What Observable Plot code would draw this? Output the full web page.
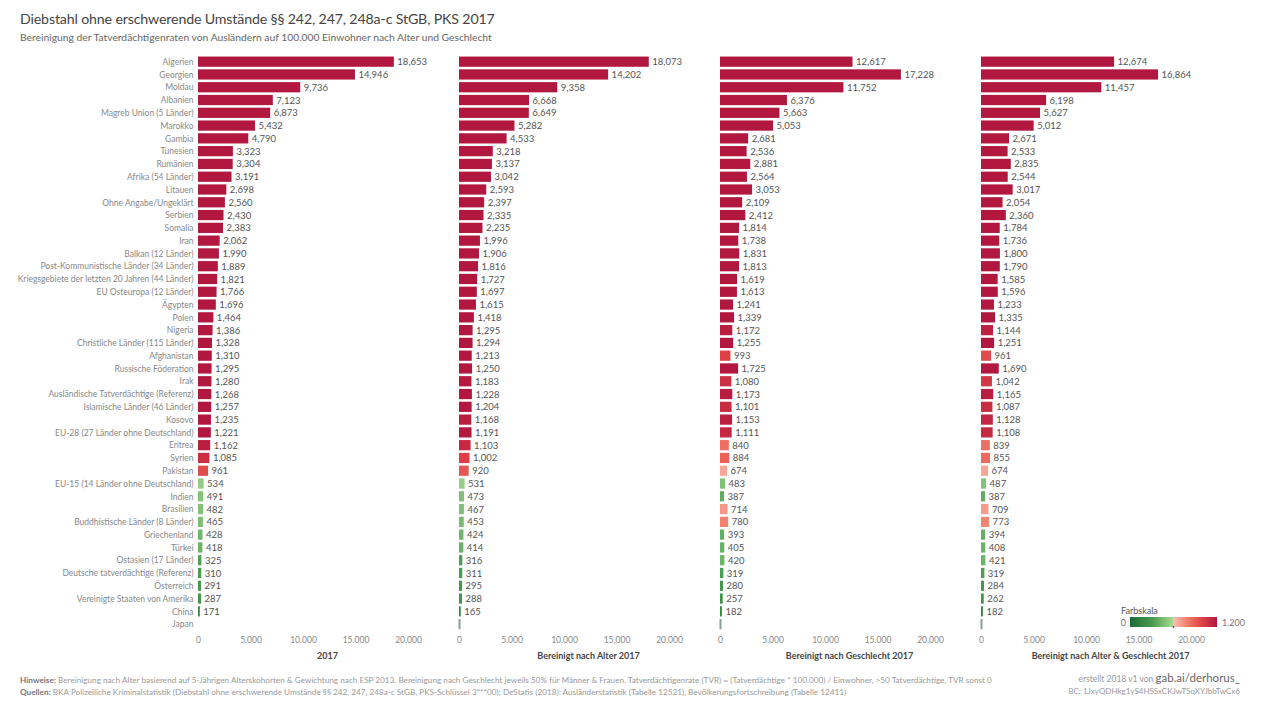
<!DOCTYPE html>
<html><head><meta charset="utf-8">
<script src="https://cdn.jsdelivr.net/npm/d3@7"></script>
<script src="https://cdn.jsdelivr.net/npm/@observablehq/plot@0.6"></script>
<style>
body{margin:0;background:#fff;font-family:Lato,"Open Sans",sans-serif;}
#wrap{position:relative;width:1280px;height:720px;overflow:hidden;}
.abs{position:absolute;white-space:nowrap;}
</style></head>
<body><div id="wrap">
<div class="abs" style="left:20px;top:10px;font-size:14.2px;letter-spacing:-0.15px;color:#444;">Diebstahl ohne erschwerende Umstände §§ 242, 247, 248a-c StGB, PKS 2017</div>
<div class="abs" style="left:20px;top:31px;font-size:10.3px;color:#666;">Bereinigung der Tatverdächtigenraten von Ausländern auf 100.000 Einwohner nach Alter und Geschlecht</div>
<div id="chart" class="abs" style="left:0;top:48px;"></div>
<div id="legend" class="abs" style="left:1118px;top:604px;"></div>
<div class="abs" style="left:20px;top:675px;font-size:8.2px;color:#999;"><span style="color:#777;font-weight:bold">Hinweise:</span> Bereinigung nach Alter basierend auf 5-Jährigen Alterskohorten &amp; Gewichtung nach ESP 2013. Bereinigung nach Geschlecht jeweils 50% für Männer &amp; Frauen. Tatverdächtigenrate (TVR) = (Tatverdächtige * 100.000) / Einwohner, &gt;50 Tatverdächtige, TVR sonst 0</div>
<div class="abs" style="left:20px;top:687px;font-size:8.2px;color:#999;"><span style="color:#777;font-weight:bold">Quellen:</span> BKA Polizeiliche Kriminalstatistik (Diebstahl ohne erschwerende Umstände §§ 242, 247, 248a-c StGB, PKS-Schlüssel 3***00); DeStatis (2018): Ausländerstatistik (Tabelle 12521), Bevölkerungsfortschreibung (Tabelle 12411)</div>
<div class="abs" style="right:40px;top:671px;font-size:8.5px;color:#999;text-align:right;">erstellt 2018 v1 von <span style="font-size:11.5px;color:#666;">gab.ai/derhorus_</span></div>
<div class="abs" style="right:40px;top:686px;font-size:8px;color:#999;text-align:right;">BC: 1JxyQDHkg1yS4HSSxCKJwTSqXYJbbTwCx6</div>
</div>
<script>
const categories = ["Algerien","Georgien","Moldau","Albanien","Magreb Union (5 Länder)","Marokko","Gambia","Tunesien","Rumänien","Afrika (54 Länder)","Litauen","Ohne Angabe/Ungeklärt","Serbien","Somalia","Iran","Balkan (12 Länder)","Post-Kommunistische Länder (34 Länder)","Kriegsgebiete der letzten 20 Jahren (44 Länder)","EU Osteuropa (12 Länder)","Ägypten","Polen","Nigeria","Christliche Länder (115 Länder)","Afghanistan","Russische Föderation","Irak","Ausländische Tatverdächtige (Referenz)","Islamische Länder (46 Länder)","Kosovo","EU-28 (27 Länder ohne Deutschland)","Eritrea","Syrien","Pakistan","EU-15 (14 Länder ohne Deutschland)","Indien","Brasilien","Buddhistische Länder (8 Länder)","Griechenland","Türkei","Ostasien (17 Länder)","Deutsche tatverdächtige (Referenz)","Österreich","Vereinigte Staaten von Amerika","China","Japan"];
const panels = ["2017","Bereinigt nach Alter 2017","Bereinigt nach Geschlecht 2017","Bereinigt nach Alter & Geschlecht 2017"];
const values2017 = [18653,14946,9736,7123,6873,5432,4790,3323,3304,3191,2698,2560,2430,2383,2062,1990,1889,1821,1766,1696,1464,1386,1328,1310,1295,1280,1268,1257,1235,1221,1162,1085,961,534,491,482,465,428,418,325,310,291,287,171,null];
const valuesAlter = [18073,14202,9358,6668,6649,5282,4533,3218,3137,3042,2593,2397,2335,2235,1996,1906,1816,1727,1697,1615,1418,1295,1294,1213,1250,1183,1228,1204,1168,1191,1103,1002,920,531,473,467,453,424,414,316,311,295,288,165,0];
const valuesGeschlecht = [12617,17228,11752,6376,5663,5053,2681,2536,2881,2564,3053,2109,2412,1814,1738,1831,1813,1619,1613,1241,1339,1172,1255,993,1725,1080,1173,1101,1153,1111,840,884,674,483,387,714,780,393,405,420,319,280,257,182,0];
const valuesAlterGeschlecht = [12674,16864,11457,6198,5627,5012,2671,2533,2835,2544,3017,2054,2360,1784,1736,1800,1790,1585,1596,1233,1335,1144,1251,961,1690,1042,1165,1087,1128,1108,839,855,674,487,387,709,773,394,408,421,319,284,262,182,0];
const xTicks = [0,5000,10000,15000,20000];
const colorStops = [0,300,599.9,600,800,1000,1200];
const colorRange = ["#1f6b35","#469a4f","#a8dc92","#fbc0b4","#f27a68","#dc3f45","#b2173f"];

const series = [values2017, valuesAlter, valuesGeschlecht, valuesAlterGeschlecht];
const data = [];
series.forEach((vals, i) => vals.forEach((v, j) => { if (v != null) data.push({panel: panels[i], cat: categories[j], value: v}); }));

const de = d => d3.format(",")(d).replace(/,/g, ".");
const en = d3.format(",");

const chart = Plot.plot({
  width: 1280, height: 617,
  marginLeft: 197, marginRight: 41, marginTop: 6, marginBottom: 33.2,
  style: {fontFamily: "Lato, 'Open Sans', sans-serif", fontSize: "8.5px", color: "#888", background: "transparent"},
  fx: {domain: panels, paddingInner: 0.0126, paddingOuter: 0, axis: null, label: null},
  x: {domain: [0, 24571], ticks: xTicks, tickFormat: de, tickSize: 0, tickPadding: 5, label: null},
  y: {domain: categories, padding: 0.2, tickSize: 0, tickPadding: 5, label: null},
  color: {type: "linear", domain: colorStops, range: colorRange, clamp: true, interpolate: "rgb"},
  marks: [
    Plot.barX(data.filter(d => d.value > 0), {x: "value", y: "cat", fx: "panel", fill: "value"}),
    Plot.tickX(data.filter(d => d.value === 0), {x: "value", y: "cat", fx: "panel", stroke: "#86a39a", strokeWidth: 2}),
    Plot.text(data.filter(d => d.value > 0), {x: "value", y: "cat", fx: "panel", text: d => en(d.value), dx: 3, textAnchor: "start", fill: "#555", fontSize: 9.5}),
    Plot.text(panels, {fx: d => d, text: d => d, frameAnchor: "bottom", dy: 27, fill: "#444", fontSize: 9, fontWeight: "bold"})
  ]
});
document.getElementById("chart").appendChild(chart);

// legend built from the same colour stops
const lw = 87, lh = 10;
const leg = d3.create("svg").attr("width", 150).attr("height", 30).style("font-family", "Lato, 'Open Sans', sans-serif");
const grad = leg.append("defs").append("linearGradient").attr("id", "lg");
colorStops.forEach((s, i) => grad.append("stop").attr("offset", s / 1200).attr("stop-color", colorRange[i]));
leg.append("text").attr("x", 3).attr("y", 10).attr("font-size", 9).attr("fill", "#555").text("Farbskala");
leg.append("rect").attr("x", 12).attr("y", 13).attr("width", lw).attr("height", lh).attr("fill", "url(#lg)");
leg.append("rect").attr("x", 12 + lw * 0.49).attr("y", 22).attr("width", 1.5).attr("height", 2).attr("fill", "#555");
leg.append("text").attr("x", 8).attr("y", 21.5).attr("font-size", 9).attr("fill", "#777").attr("text-anchor", "end").text("0");
leg.append("text").attr("x", 104).attr("y", 21.5).attr("font-size", 9).attr("fill", "#777").text("1.200");
document.getElementById("legend").appendChild(leg.node());
</script>
</body></html>
